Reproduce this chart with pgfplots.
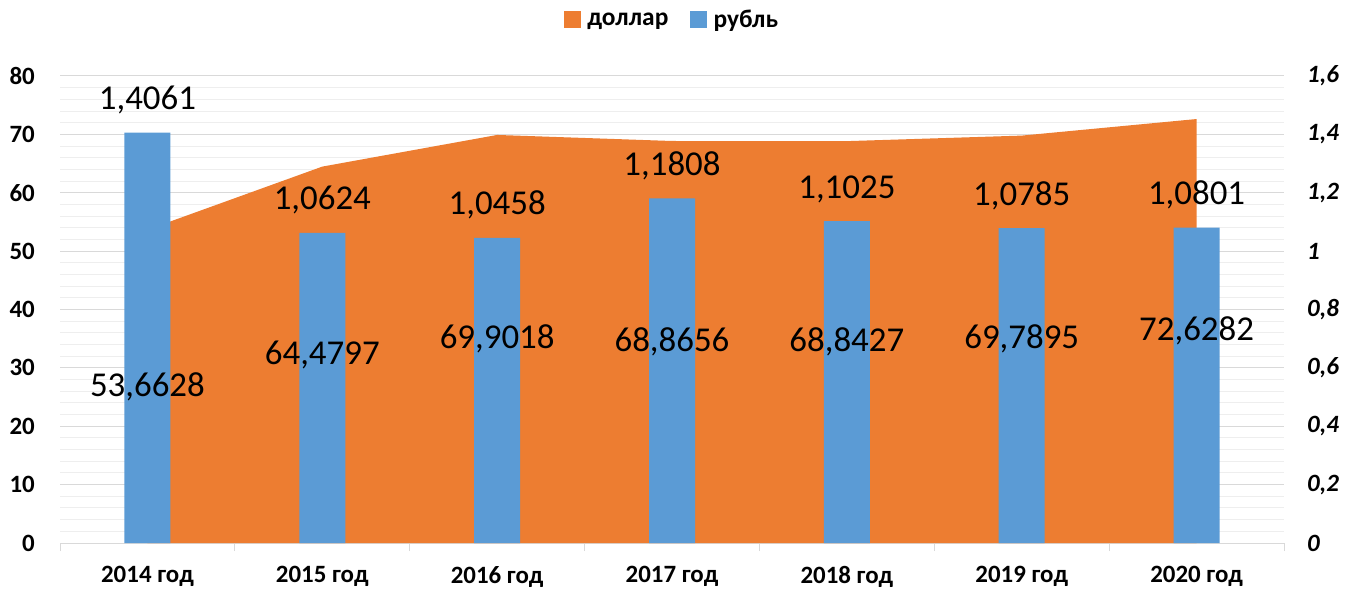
\documentclass[border=0pt]{standalone}
\usepackage{fontspec}
\setmainfont{Carlito}
\usepackage{pgfplots}
\pgfplotsset{compat=1.18}
\definecolor{dolcol}{HTML}{ED7D31}
\definecolor{rubcol}{HTML}{5B9BD5}
\definecolor{gmaj}{HTML}{D9D9D9}
\definecolor{gmin}{HTML}{EEEEEE}
\pgfplotsset{
  base/.style={scale only axis, width=1224bp, height=467bp, xmin=-0.5, xmax=6.5,
    /pgf/number format/assume math mode=true},
  tfont/.style={font=\bfseries\fontsize{25}{25}\selectfont},
  yfont/.style={font=\bfseries\fontsize{25}{25}\selectfont},
}
\begin{document}
\begin{tikzpicture}
% axis 1: grid + area (left scale)
\begin{axis}[base, ymin=0, ymax=80,
  ytick={0,10,...,80}, minor y tick num=4,
  ymajorgrids, yminorgrids,
  major grid style={gmaj, line width=1bp},
  minor grid style={gmin, line width=1bp},
  axis x line*=bottom, axis y line*=left,
  y axis line style={draw=none},
  x axis line style={gmaj, line width=1bp, -},
  ytick style={draw=none}, minor y tick style={draw=none},
  xtick={0,...,6},
  xticklabels={2014 год,2015 год,2016 год,2017 год,2018 год,2019 год,2020 год},
  major x tick style={draw=none},
  extra x ticks={-0.5,0.5,1.5,2.5,3.5,4.5,5.5,6.5},
  extra x tick labels={},
  extra x tick style={tick align=outside, major tick length=8bp,
     major x tick style={draw=gmaj, line width=1bp}},
  xticklabel style={tfont, anchor=north, inner sep=0, yshift=-23bp},
  yticklabel style={yfont, anchor=east, inner sep=0, xshift=-25bp},
]
\addplot[fill=dolcol, draw=none] table {
x y
0 53.6628
1 64.4797
2 69.9018
3 68.8656
4 68.8427
5 69.7895
6 72.6282
} \closedcycle;
\coordinate (sw) at (rel axis cs:0,0);
\coordinate (ne) at (rel axis cs:1,1);
\end{axis}
% axis 2: bars (right scale)
\begin{axis}[base, ymin=0, ymax=1.6,
  ytick={0,0.2,0.4,0.6,0.8,1,1.2,1.4,1.6},
  axis x line=none, axis y line*=right,
  y axis line style={draw=none}, ytick style={draw=none},
  yticklabel style={font=\bfseries\itshape\fontsize{25}{25}\selectfont, anchor=west, inner sep=0, xshift=23bp,
    /pgf/number format/.cd, use comma, fixed, precision=1},
]
\addplot[ybar, bar width=46bp, fill=rubcol, draw=none,
  nodes near coords={\pgfmathprintnumber[fixed, fixed zerofill, precision=4, use comma, assume math mode=true]{\pgfplotspointmeta}},
  every node near coord/.append style={font=\fontsize{35}{35}\selectfont, anchor=base, inner sep=0, yshift=23bp, text=black},
] table {
x y
0 1.4061
1 1.0624
2 1.0458
3 1.1808
4 1.1025
5 1.0785
6 1.0801
};
\end{axis}
% axis 3: area labels + legend
\begin{axis}[base, ymin=0, ymax=80, hide axis, clip=false,
  legend style={at={(0.5,1)}, anchor=center, yshift=56bp, draw=none, fill=none,
    legend columns=2, font=\bfseries\fontsize{25.5}{25.5}\selectfont,
    /tikz/every even column/.append style={column sep=20bp}},
]
\addplot[draw=none, mark=none, forget plot,
  nodes near coords={\pgfmathprintnumber[fixed, fixed zerofill, precision=4, use comma, assume math mode=true]{\pgfplotspointmeta}},
  every node near coord/.append style={font=\fontsize{35}{35}\selectfont, anchor=center, inner sep=0, text=black},
  point meta=explicit,
  y filter/.expression={y/2},
] table[x=x, y=y, meta=y] {
x y
0 53.6628
1 64.4797
2 69.9018
3 68.8656
4 68.8427
5 69.7895
6 72.6282
};
\addlegendimage{legend image code/.code={\fill[dolcol] (0bp,-7bp) rectangle (16bp,9bp); \path (21bp,0);}}
\addlegendentry{доллар}
\addlegendimage{legend image code/.code={\fill[rubcol] (0bp,-7bp) rectangle (16bp,9bp); \path (21bp,0);}}
\addlegendentry{рубль}
\end{axis}
\pgfresetboundingbox
\path ([shift={(-60bp,-46bp)}]sw) rectangle ([shift={(73bp,76bp)}]ne);
\end{tikzpicture}
\end{document}
